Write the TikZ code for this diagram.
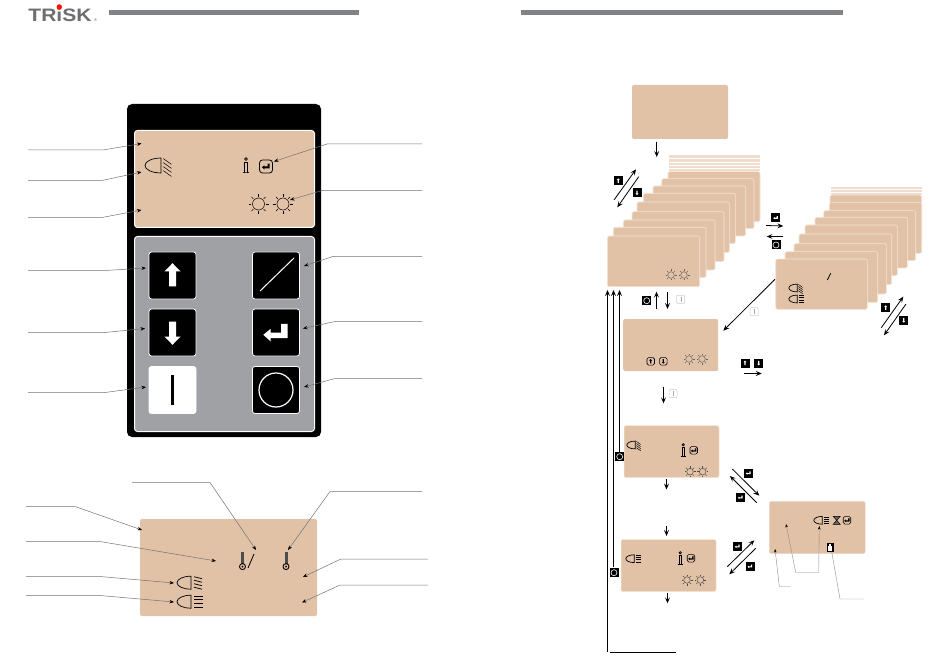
\documentclass[tikz,border=0pt]{standalone}
\usepackage{tikz, xcolor}
\usepackage{fontspec}
\setmainfont{Liberation Sans}
\usetikzlibrary{shapes,arrows,arrows.meta}
\definecolor{tan}{HTML}{E1C2A7}
\definecolor{tanedge}{HTML}{F4E4D6}
\definecolor{stripe}{HTML}{F0DCCB}
\definecolor{panelgrey}{HTML}{A0A1A4}
\definecolor{bargrey}{HTML}{808285}
\definecolor{logogrey}{HTML}{6D6E71}
\newcommand{\lampshape}{\draw[line width=.7pt] (7,-6.5) .. controls (-1,-6.5) and (-7,-3.5) .. (-7,0) .. controls (-7,3.5) and (-1,6.5) .. (7,6.5) -- cycle;}
\tikzset{
  gup/.pic={\path[pic actions] (0,-12.3) -- (8,-4) -- (3.5,-4) -- (3.5,11) -- (-3.5,11) -- (-3.5,-4) -- (-8,-4) -- cycle;},
  gdown/.pic={\path[pic actions] (0,12.3) -- (8,4) -- (3.5,4) -- (3.5,-11) -- (-3.5,-11) -- (-3.5,4) -- (-8,4) -- cycle;},
  genter/.pic={\path[pic actions] (-12.7,2.3) -- (-5.3,-3.7) -- (-5.3,0) -- (5,0) -- (5,-8.7) -- (11.7,-8.7) -- (11.7,5.7) -- (-5.3,5.7) -- (-5.3,9) -- cycle;},
  gbar/.pic={\path[pic actions] (-1.3,-15) rectangle (1.3,15);},
  glock/.pic={\path[pic actions] (-2,-1.5) rectangle (2,3.2); \path[pic actions] (-1,-3.2) rectangle (1,-1.5);},
  sunicon/.pic={
    \draw[line width=.5pt] (0,0) circle (6);
    \foreach \a in {0,45,...,315} \draw[line width=.5pt] (\a:7.3) -- (\a:10);
  },
  lampsteep/.pic={
    \lampshape
    \foreach \y in {-6,-2.5,1,4.5} \draw[line width=.5pt] (9,\y) -- (16,\y+5);
  },
  lampmild/.pic={
    \lampshape
    \foreach \y in {-6,-2.5,1,4.5} \draw[line width=.7pt] (10,\y) -- (18,\y+2);
  },
  lamplow/.pic={
    \lampshape
    \foreach \y in {-5.5,-1.9,1.9,5.5} \draw[line width=.8pt] (10,\y) -- (19,\y);
  },
  infoicon/.pic={
    \draw[line width=.7pt] (0,-6.5) circle (1.3);
    \draw[line width=.6pt] (-2,-3.5) -- (1.5,-3.5) -- (1.5,6.5) -- (3,6.5) -- (-3,6.5) -- (-1.5,6.5) -- (-1.5,-3.5);
  },
  thermoicon/.pic={
    \fill[black!70] (-1.5,-9) rectangle (1.5,4);
    \draw[fill=tan,line width=.9pt] (0,5.6) circle (3);
    \fill (0,5.6) circle (1.1);
  },
  sandicon/.pic={
    \draw[line width=.5pt,fill=black!60] (-3.5,-4) -- (3.5,-4) -- (-3.5,4) -- (3.5,4) -- cycle;
  }
}
\begin{document}
\begin{tikzpicture}[x=1pt, y=-1pt]
\tikzstyle{display}=[rectangle, fill=tan, rounded corners=2pt, inner sep=0pt]
\tikzstyle{cardbox}=[fill=tan, draw=tanedge, line width=.6pt, rounded corners=1.5pt]
\tikzstyle{stripebox}=[fill=stripe]
\tikzstyle{bigkey}=[rectangle, fill=black, draw=white, line width=.8pt, rounded corners=2.5pt, minimum size=47pt, inner sep=0pt]
\tikzstyle{keyk}=[rectangle, fill=black, minimum size=9pt, inner sep=0pt]
\tikzstyle{keyi}=[rectangle, fill=white, draw=black!20, line width=.5pt, rounded corners=.8pt, minimum size=8pt, inner sep=0pt]
\tikzstyle{keyo}=[rectangle, fill=tan, draw=black, line width=.6pt, rounded corners=1.5pt, minimum size=7.5pt, inner sep=0pt]
\tikzstyle{leader}=[draw=black!55, line width=.5pt, -{Stealth[black,length=4.5pt,width=3.5pt]}]
\tikzstyle{leaderl}=[draw=black!45, line width=.4pt, -{Stealth[black,length=3.5pt,width=2.5pt]}]
\tikzstyle{drawstyle}=[line width=.8pt, -{Stealth[length=6pt,width=5pt,inset=2.5pt]}]
\useasboundingbox (0,0) rectangle (950,660);

\node[font=\bfseries, text=logogrey, inner sep=0pt, xscale=1.17, fill=white] (Logo) at (60,15.5) {\fontsize{18}{18}\selectfont TRiSK};
\node[font=\fontsize{4}{4}\selectfont, text=logogrey, inner sep=0pt] (LogoR) at (95.5,20.5) {®};
\node[circle, fill=red!85!orange, minimum size=5.5pt, inner sep=0pt] (LogoDot) at (59.3,7) {};
\fill[bargrey] (109,10) rectangle (359,15);
\fill[bargrey] (521,10) rectangle (843,15);

\node[rectangle, fill=black, rounded corners=5pt, minimum width=194pt, minimum height=333pt, inner sep=0pt] (Panel) at (224,270.5) {};
\node[rectangle, fill=tan, draw=white, line width=1pt, rounded corners=3pt, minimum width=180pt, minimum height=97pt, inner sep=0pt] (Screen) at (224.5,179) {};
\node[rectangle, fill=panelgrey, draw=white, line width=1pt, rounded corners=3pt, minimum width=180pt, minimum height=195pt, inner sep=0pt] (Pad) at (224.5,334) {};

\node[bigkey] (KeyUp) at (172.5,275.5) {};
\pic[fill=white] at (KeyUp) {gup};
\node[bigkey] (KeyDown) at (172.5,332.5) {};
\pic[fill=white] at (KeyDown) {gdown};
\node[bigkey, fill=white] (KeyOn) at (172.5,390) {};
\pic[fill=black] at (KeyOn) {gbar};
\node[bigkey] (KeySlash) at (276,275.5) {};
\draw[white, line width=1pt] (260,291) -- (294,258);
\node[bigkey] (KeyEnter) at (276,332.5) {};
\pic[fill=white] at (KeyEnter) {genter};
\node[bigkey] (KeyOff) at (276,390) {};
\draw[white, line width=1.2pt] (KeyOff) circle (17);

\pic[scale=1.15] at (153,165.5) {lampsteep};
\pic at (246,165.5) {infoicon};
\node[keyo, minimum size=13pt, line width=.8pt, rounded corners=3pt] (ScreenEnter) at (266,166.5) {};
\pic[fill=black, scale=.32] at (ScreenEnter) {genter};
\pic at (258.5,204) {sunicon};
\pic at (283,204) {sunicon};

\coordinate (LA0) at (28,150);
\coordinate (LA1) at (103,150);
\coordinate (LA2) at (141.5,143.5);
\draw[leader] (LA0) -- (LA1) -- (LA2);
\coordinate (LB0) at (28,180.5);
\coordinate (LB1) at (102,180.5);
\coordinate (LB2) at (141.5,172);
\draw[leader] (LB0) -- (LB1) -- (LB2);
\coordinate (LC0) at (28,217.5);
\coordinate (LC1) at (102,217.5);
\coordinate (LC2) at (141.5,210);
\draw[leader] (LC0) -- (LC1) -- (LC2);
\coordinate (LD0) at (28,270.5);
\coordinate (LD1) at (105,270.5);
\coordinate (LD2) at (146,268);
\draw[leader] (LD0) -- (LD1) -- (LD2);
\coordinate (LE0) at (28,332.5);
\coordinate (LE1) at (105,332.5);
\coordinate (LE2) at (145,328.5);
\draw[leader] (LE0) -- (LE1) -- (LE2);
\coordinate (LF0) at (28,392.5);
\coordinate (LF1) at (105,392.5);
\coordinate (LF2) at (146,387);
\draw[leader] (LF0) -- (LF1) -- (LF2);
\coordinate (RA0) at (422,144);
\coordinate (RA1) at (327,144);
\coordinate (RA2) at (274,161.5);
\draw[leader] (RA0) -- (RA1) -- (RA2);
\coordinate (RB0) at (422,190.5);
\coordinate (RB1) at (322,190.5);
\coordinate (RB2) at (290,200);
\draw[leader] (RB0) -- (RB1) -- (RB2);
\coordinate (RC0) at (422,256.5);
\coordinate (RC1) at (333,256.5);
\coordinate (RC2) at (304,266);
\draw[leader] (RC0) -- (RC1) -- (RC2);
\coordinate (RD0) at (422,321.5);
\coordinate (RD1) at (335,321.5);
\coordinate (RD2) at (303,328.5);
\draw[leader] (RD0) -- (RD1) -- (RD2);
\coordinate (RE0) at (422,378.5);
\coordinate (RE1) at (335,378.5);
\coordinate (RE2) at (304,387);
\draw[leader] (RE0) -- (RE1) -- (RE2);

\node[display, minimum width=177pt, minimum height=97pt] (Lower) at (228.5,567.5) {};
\pic at (184,582.7) {lampmild};
\pic at (184,601.7) {lamplow};
\pic at (242.5,561) {thermoicon};
\draw[line width=.8pt] (248,568) -- (254,554);
\pic at (286,561) {thermoicon};

\coordinate (TA0) at (132,482.5);
\coordinate (TA1) at (210,482.5);
\coordinate (TA2) at (256,550);
\draw[leader] (TA0) -- (TA1) -- (TA2);
\coordinate (TB0) at (422,491.5);
\coordinate (TB1) at (330,491.5);
\coordinate (TB2) at (288,550);
\draw[leader] (TB0) -- (TB1) -- (TB2);
\coordinate (TC0) at (26,506.5);
\coordinate (TC1) at (75,506.5);
\coordinate (TC2) at (142,530);
\draw[leader] (TC0) -- (TC1) -- (TC2);
\coordinate (TD0) at (26,541.5);
\coordinate (TD1) at (100,541.5);
\coordinate (TD2) at (216,561);
\draw[leader] (TD0) -- (TD1) -- (TD2);
\coordinate (TE0) at (26,576.5);
\coordinate (TE1) at (100,576.5);
\coordinate (TE2) at (174,583);
\draw[leader] (TE0) -- (TE1) -- (TE2);
\coordinate (TF0) at (26,595.5);
\coordinate (TF1) at (100,595.5);
\coordinate (TF2) at (174,602);
\draw[leader] (TF0) -- (TF1) -- (TF2);
\coordinate (TG0) at (428,559);
\coordinate (TG1) at (341,559);
\coordinate (TG2) at (303,577);
\draw[leader] (TG0) -- (TG1) -- (TG2);
\coordinate (TH0) at (428,585);
\coordinate (TH1) at (340,585);
\coordinate (TH2) at (302,602.5);
\draw[leader] (TH0) -- (TH1) -- (TH2);

\node[display, minimum width=96pt, minimum height=54pt] (Box0) at (680,112) {};

\fill[stripebox] (669,155) rectangle (760,171.5);
\draw[white, line width=.7pt] (669,158.5) -- (760,158.5);
\draw[white, line width=.7pt] (669,162) -- (760,162);
\draw[white, line width=.7pt] (669,165) -- (760,165);
\draw[white, line width=.7pt] (669,168) -- (760,168);
\draw[cardbox] (668,171.7) rectangle (760,221.7);
\draw[cardbox] (661.7,178.7) rectangle (754,228.7);
\draw[cardbox] (653,186) rectangle (745.7,236);
\draw[cardbox] (643.3,193.3) rectangle (735.3,243.7);
\draw[cardbox] (637,202) rectangle (729.3,252.7);
\draw[cardbox] (632,211.7) rectangle (724,261.7);
\draw[cardbox] (623.3,220) rectangle (715,270);
\draw[cardbox] (613.3,227.3) rectangle (706,277.7);
\node[display, draw=tanedge, line width=.6pt, minimum width=92.4pt, minimum height=50.7pt] (Stack1) at (653.5,261.4) {};
\pic[scale=.55, black!60] at (671,275) {sunicon};
\pic[scale=.55, black!60] at (684,275) {sunicon};

\fill[stripebox] (831,187.3) rectangle (922,195);
\draw[white, line width=.6pt] (831,189.5) -- (922,189.5);
\draw[white, line width=.6pt] (831,192) -- (922,192);
\draw[cardbox] (830,195) rectangle (921.7,246);
\draw[cardbox] (829.3,202.7) rectangle (921.7,253.3);
\draw[cardbox] (823.7,210.7) rectangle (915.7,260.7);
\draw[cardbox] (815,217.3) rectangle (907.3,268);
\draw[cardbox] (805,225) rectangle (897.3,275.7);
\draw[cardbox] (799,234) rectangle (891.7,284.7);
\draw[cardbox] (794,243.7) rectangle (886.3,294);
\draw[cardbox] (785,251.7) rectangle (877.7,302.3);
\node[display, draw=tanedge, line width=.6pt, minimum width=91.6pt, minimum height=50.3pt] (Stack2) at (821.5,284.2) {};
\draw[line width=.8pt] (827.3,280) -- (830.7,273.3);
\pic[scale=.6] at (793,288) {lampsteep};
\pic[scale=.6] at (793,299) {lamplow};

\node[display, minimum width=95pt, minimum height=52pt] (Box2) at (670.7,345) {};
\node[keyo] (Box2Up) at (650.7,361.3) {};
\pic[fill=black, scale=.19] at (Box2Up) {gup};
\node[keyo] (Box2Down) at (663.3,361.3) {};
\pic[fill=black, scale=.19] at (Box2Down) {gdown};
\pic[scale=.55, black!60] at (689,359) {sunicon};
\pic[scale=.55, black!60] at (702,359) {sunicon};

\node[display, draw=tanedge, line width=.5pt, minimum width=95pt, minimum height=52pt] (Box3) at (671.5,451.7) {};
\pic[scale=.6] at (631,445) {lampsteep};
\pic[scale=.85, line width=.8pt] at (683.3,450.3) {infoicon};
\node[keyo] (Box3Enter) at (693.7,450.3) {};
\pic[fill=black, scale=.22] at (Box3Enter) {genter};
\pic[scale=.55, black!70] at (690,471.7) {sunicon};
\pic[scale=.55, black!70] at (702.7,471.7) {sunicon};

\node[display, draw=tanedge, line width=.5pt, minimum width=95pt, minimum height=52pt] (Box4) at (668.5,565.5) {};
\pic[scale=.6] at (630,558.7) {lamplow};
\pic[scale=.85] at (680.3,558.3) {infoicon};
\node[keyo] (Box4Enter) at (691,558.3) {};
\pic[fill=black, scale=.22] at (Box4Enter) {genter};
\pic[scale=.55, black!70] at (687,580) {sunicon};
\pic[scale=.55, black!70] at (700.3,580) {sunicon};

\node[display, minimum width=96pt, minimum height=52.4pt] (Box5) at (817.3,527.5) {};
\pic[scale=.6] at (818,520.3) {lamplow};
\pic at (836.7,520.3) {sandicon};
\node[keyo] (Box5Enter) at (847,520.3) {};
\pic[fill=black, scale=.22] at (Box5Enter) {genter};
\node[keyk, minimum width=7pt, minimum height=9pt] (Box5Key) at (830.3,547.3) {};
\pic[fill=white] at (Box5Key) {glock};

\coordinate (BA0) at (790.7,586.5);
\coordinate (BA1) at (779.3,586.5);
\coordinate (BA2) at (775,549);
\draw[leaderl] (BA0) -- (BA1) -- (BA2);
\coordinate (BB0) at (795.7,572.5);
\coordinate (BB1) at (786,524);
\coordinate (BB2) at (818.7,572.5);
\coordinate (BB3) at (819.3,526);
\draw[leaderl] (BB0) -- (BB1);
\draw[leaderl] (BB0) -- (BB2) -- (BB3);
\coordinate (BC0) at (864,599);
\coordinate (BC1) at (840,599);
\coordinate (BC2) at (831.7,551.7);
\draw[draw=black!45, line width=.4pt] (BC0) -- (BC1) -- (BC2);

\coordinate (FA0) at (656.7,142);
\coordinate (FA1) at (656.7,157);
\draw[drawstyle] (FA0) -- (FA1);
\coordinate (FB0) at (614,200);
\coordinate (FB1) at (636,169.3);
\draw[drawstyle] (FB0) -- (FB1);
\coordinate (FC0) at (638.7,176.7);
\coordinate (FC1) at (617.3,207.3);
\draw[drawstyle] (FC0) -- (FC1);
\node[keyk] (K1Up) at (618.3,180.7) {};
\pic[fill=white, scale=.19] at (K1Up) {gup};
\node[keyk] (K1Down) at (637,192.7) {};
\pic[fill=white, scale=.19] at (K1Down) {gdown};

\coordinate (FD0) at (766,225.5);
\coordinate (FD1) at (783.3,226);
\draw[drawstyle] (FD0) -- (FD1);
\coordinate (FE0) at (783,236.5);
\coordinate (FE1) at (766.7,236.5);
\draw[drawstyle] (FE0) -- (FE1);
\node[keyk] (K2Enter) at (775.7,217.7) {};
\pic[fill=white, scale=.19] at (K2Enter) {genter};
\node[keyk] (K2Off) at (776,245) {};
\draw[white, line width=.6pt] (K2Off) circle (3);

\coordinate (FF0) at (881.3,327.7);
\coordinate (FF1) at (903.3,296.7);
\draw[drawstyle] (FF0) -- (FF1);
\coordinate (FG0) at (906,304);
\coordinate (FG1) at (884,335.3);
\draw[drawstyle] (FG0) -- (FG1);
\node[keyk] (K3Up) at (885.7,307.7) {};
\pic[fill=white, scale=.19] at (K3Up) {gup};
\node[keyk] (K3Down) at (903.7,320.3) {};
\pic[fill=white, scale=.19] at (K3Down) {gdown};

\coordinate (FH0) at (775,279.3);
\coordinate (FH1) at (723.3,330.7);
\draw[drawstyle] (FH0) -- (FH1);
\node[keyi] (K4On) at (754,311.7) {};
\pic[fill=black!35, scale=.16] at (K4On) {gbar};

\coordinate (FI0) at (656.5,309);
\coordinate (FI1) at (656.5,291.7);
\draw[drawstyle] (FI0) -- (FI1);
\coordinate (FJ0) at (667.5,291.7);
\coordinate (FJ1) at (667.5,309);
\draw[drawstyle] (FJ0) -- (FJ1);
\node[keyk] (K5Off) at (646.7,300.7) {};
\draw[white, line width=.6pt] (K5Off) circle (3);
\node[keyi] (K5On) at (680.7,299.3) {};
\pic[fill=black!35, scale=.16] at (K5On) {gbar};

\coordinate (FK0) at (607.5,651.5);
\coordinate (FK1) at (607.5,290);
\draw[drawstyle] (FK0) -- (FK1);
\coordinate (FL0) at (613.5,566.5);
\coordinate (FL1) at (613.5,290);
\draw[drawstyle] (FL0) -- (FL1);
\coordinate (FM0) at (619.5,452.5);
\coordinate (FM1) at (619.5,290);
\draw[drawstyle] (FM0) -- (FM1);
\node[keyk] (K6Off) at (619.7,456.7) {};
\draw[white, line width=.6pt] (K6Off) circle (3);
\node[keyk] (K7Off) at (614,572.7) {};
\draw[white, line width=.6pt] (K7Off) circle (3);
\coordinate (FN0) at (610,652.5);
\coordinate (FN1) at (676,652.5);
\draw[line width=.8pt] (FN0) -- (FN1);

\node[keyk] (K8Up) at (745,363) {};
\pic[fill=white, scale=.19] at (K8Up) {gup};
\node[keyk] (K8Down) at (758.7,363) {};
\pic[fill=white, scale=.19] at (K8Down) {gdown};
\coordinate (FO0) at (744.3,373.5);
\coordinate (FO1) at (761.7,373.5);
\draw[drawstyle] (FO0) -- (FO1);

\coordinate (FP0) at (663.5,386.7);
\coordinate (FP1) at (663.5,403.3);
\draw[drawstyle] (FP0) -- (FP1);
\node[keyi] (K9On) at (673,393.7) {};
\pic[fill=black!35, scale=.16] at (K9On) {gbar};

\coordinate (FQ0) at (666.5,479.3);
\coordinate (FQ1) at (666.5,489.5);
\draw[drawstyle] (FQ0) -- (FQ1);
\coordinate (FR0) at (666.5,526);
\coordinate (FR1) at (666.5,536);
\draw[drawstyle] (FR0) -- (FR1);
\coordinate (FS0) at (667.5,593.3);
\coordinate (FS1) at (667.5,603.3);
\draw[drawstyle] (FS0) -- (FS1);

\coordinate (FT0) at (732.3,469);
\coordinate (FT1) at (759.3,495.7);
\draw[drawstyle] (FT0) -- (FT1);
\coordinate (FU0) at (756.7,502.7);
\coordinate (FU1) at (730,476);
\draw[drawstyle] (FU0) -- (FU1);
\node[keyk] (K10Enter) at (748.3,473) {};
\pic[fill=white, scale=.19] at (K10Enter) {genter};
\node[keyk] (K11Enter) at (740.3,497.3) {};
\pic[fill=white, scale=.19] at (K11Enter) {genter};

\coordinate (FV0) at (727.3,566.7);
\coordinate (FV1) at (754.3,540.3);
\draw[drawstyle] (FV0) -- (FV1);
\coordinate (FW0) at (755.7,548.3);
\coordinate (FW1) at (729.3,574.3);
\draw[drawstyle] (FW0) -- (FW1);
\node[keyk] (K12Enter) at (737.3,546.3) {};
\pic[fill=white, scale=.19] at (K12Enter) {genter};
\node[keyk] (K13Enter) at (750,566.3) {};
\pic[fill=white, scale=.19] at (K13Enter) {genter};
\end{tikzpicture}
\end{document}
